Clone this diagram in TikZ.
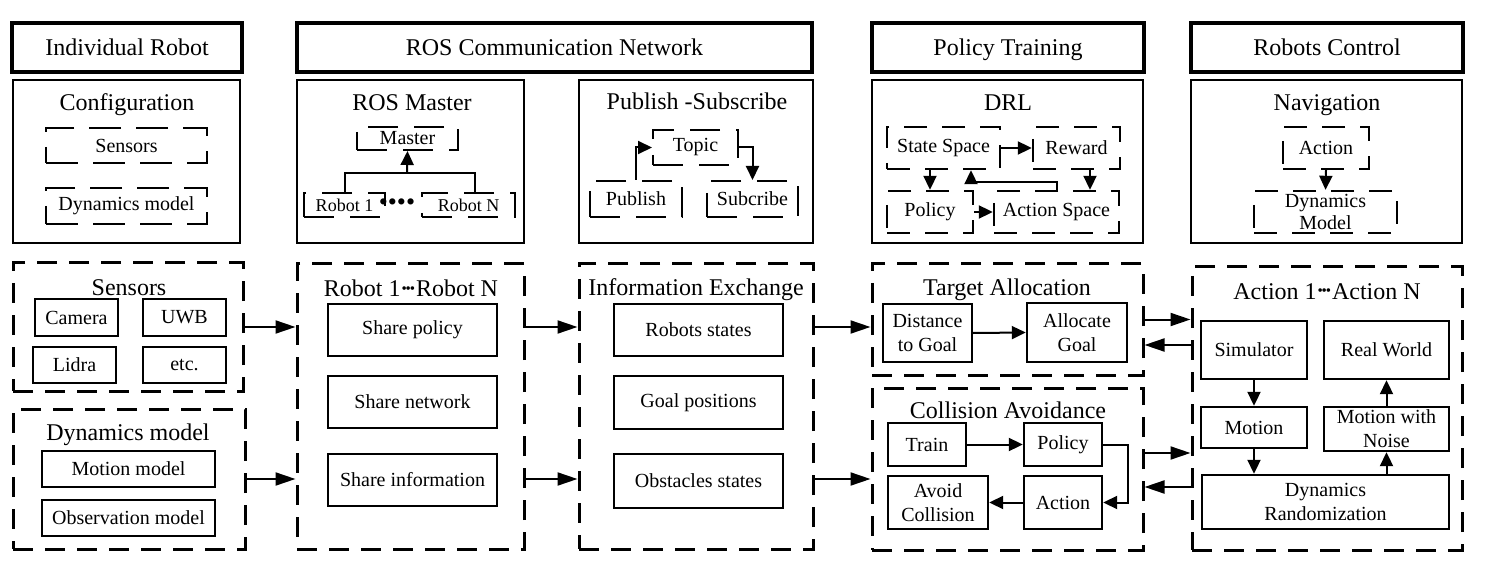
\documentclass[tikz,border=0pt]{standalone}
\usepackage{fontspec}
\setmainfont{Liberation Serif}
\usetikzlibrary{arrows.meta,calc}
\newcommand\mybox[6]{\node[#1,minimum width={(#4)-(#2)},minimum height={(#5)-(#3)}] (#6) at ({((#2)+(#4))/2},{((#3)+(#5))/2})}
\newcommand\mydots{\kern1pt\raisebox{3.5pt}{\fontsize{15}{15}\selectfont •\kern-1.2pt•\kern-1.2pt•}\kern1pt}
\tikzset{
 hdr/.style={draw, line width=4pt, font=\fontsize{24}{28}\selectfont, text height=22pt, text depth=5pt},
 ttl/.style={font=\fontsize{24}{28}\selectfont, inner sep=0pt, anchor=base},
 panel/.style={draw, line width=2pt},
 sbox/.style={draw, line width=2.4pt, font=\fontsize{20}{24}\selectfont, align=center, inner sep=1pt},
 dbig/.style={draw, line width=3pt, dash pattern=on 20pt off 12pt},
 dcfg/.style={draw, line width=2.2pt, dash pattern=on 32pt off 15pt, font=\fontsize{20}{24}\selectfont, align=center, inner sep=1pt},
 dmid/.style={draw, line width=2.4pt, dash pattern=on 23pt off 15pt, font=\fontsize{20}{22}\selectfont, align=center, inner sep=1pt},
 dros/.style={draw, line width=2pt, dash pattern=on 30pt off 16pt, font=\fontsize{20}{24}\selectfont, inner sep=1pt},
 drossm/.style={dros, font=\fontsize{18}{20}\selectfont},
 ln/.style={line width=2pt},
 arr/.style={line width=2pt, -{Triangle[length=14pt,width=13pt]}},
 bigarr/.style={line width=2pt, -{Triangle[length=20pt,width=13pt]}},
}
\begin{document}
\begin{tikzpicture}[x=1pt,y=-1pt]
\useasboundingbox (0,0) rectangle (1500,572);
% headers
\mybox{hdr}{12}{23}{242}{72}{hIR}{Individual Robot};
\mybox{hdr}{297}{23}{812}{72}{hROS}{ROS Communication Network};
\mybox{hdr}{872}{23}{1144}{72}{hPT}{Policy Training};
\mybox{hdr}{1191}{23}{1463}{72}{hRC}{Robots Control};
% row 2: configuration
\mybox{panel}{13}{80}{240}{243}{pCfg}{};
\node[ttl] (tCfg) at (127,111) {Configuration};
\mybox{dcfg}{46}{128}{207}{163}{cSens}{Sensors};
\mybox{dcfg}{46}{188}{207}{224}{cDyn}{Dynamics model};
% row 2: ROS master
\mybox{panel}{297}{80}{524}{243}{pRM}{};
\node[ttl] (tRM) at (412,111) {ROS Master};
\mybox{dros}{357}{127}{458}{150}{master}{Master};
\mybox{drossm}{304}{193}{385}{217}{rob1}{Robot 1};
\mybox{drossm}{422}{193}{515}{217}{robN}{Robot N};
\node[font=\fontsize{26}{26}\selectfont, inner sep=0pt] (dots) at (397,205) {••••};
\coordinate (mj) at (407,173);
\draw[ln] (rob1.north) |- (mj) -| ([xshift=6.5pt]robN.north);
\draw[arr] (mj) -- (master.south);
% row 2: publish subscribe
\mybox{panel}{579}{80}{813}{243}{pPS}{};
\node[ttl] (tPS) at (697,110) {Publish -Subscribe};
\mybox{dros}{653}{130}{738}{165}{topic}{Topic};
\mybox{dros}{590}{181}{682}{217}{pub}{Publish};
\mybox{dros}{707}{181}{798}{217}{sub}{Subcribe};
\draw[arr] (pub.north) |- (topic.west);
\draw[arr] (topic.east) -| (sub.north);
% row 2: DRL
\mybox{panel}{872}{80}{1143}{243}{pDRL}{};
\node[ttl] (tDRL) at (1008,111) {DRL};
\mybox{dmid}{887}{127}{1000}{169}{ss}{State Space};
\mybox{dmid}{1033}{127}{1120}{169}{rw}{Reward};
\mybox{dmid}{887}{191}{973}{233}{dpol}{Policy};
\mybox{dmid}{994}{191}{1119}{233}{as}{Action Space};
\draw[arr] (ss.east) -- (rw.west);
\draw[arr] (dpol.north |- ss.south) -- (dpol.north);
\coordinate (rwd1) at ([xshift=13.5pt]rw.south);
\draw[arr] (rwd1) -- (rwd1 |- as.north);
\draw[arr] (as.north) -- ++(0,8pt) -| ([xshift=27.5pt]ss.south);
\draw[arr] (dpol.east) -- (as.west);
% row 2: navigation
\mybox{panel}{1191}{80}{1462}{243}{pNav}{};
\node[ttl] (tNav) at (1327,111) {Navigation};
\mybox{dmid}{1283}{127}{1369}{169}{nact}{Action};
\mybox{dmid}{1254}{191}{1397}{233}{ndm}{Dynamics\\Model};
\draw[arr] (nact.south) -- (ndm.north);
% row 3: sensors
\mybox{dbig}{13}{263}{243}{391}{gSens}{};
\node[ttl] (tSens) at (129,295) {Sensors};
\mybox{sbox}{35}{299}{118}{336}{cam}{Camera};
\mybox{sbox}{143}{299}{226}{336}{uwb}{UWB};
\mybox{sbox}{33}{347}{116}{383}{lid}{Lidra};
\mybox{sbox}{143}{347}{226}{383}{etc}{etc.};
% row 3: dynamics model
\mybox{dbig}{13}{409}{245}{549}{gDyn}{};
\node[ttl] (tDyn) at (128,440) {Dynamics model};
\mybox{sbox}{42}{451}{215}{487}{mm}{Motion model};
\mybox{sbox}{42}{500}{215}{536}{om}{Observation model};
% row 3: robots
\mybox{dbig}{297}{264}{524}{549}{gRob}{};
\node[ttl] (tRob) at (411,297) {Robot 1\mydots Robot N};
\mybox{sbox}{328}{304}{497}{356}{sp}{Share policy};
\mybox{sbox}{328}{376}{497}{428}{sn}{Share network};
\mybox{sbox}{328}{454}{497}{506}{si}{Share information};
% row 3: information exchange
\mybox{dbig}{579}{264}{813}{549}{gInf}{};
\node[ttl] (tInf) at (696,295) {Information Exchange};
\mybox{sbox}{614}{304}{783}{356}{rs}{Robots states};
\mybox{sbox}{614}{376}{783}{429}{gp}{Goal positions};
\mybox{sbox}{614}{454}{783}{508}{os}{Obstacles states};
% row 3: target allocation
\mybox{dbig}{872}{264}{1143}{375}{gTA}{};
\node[ttl] (tTA) at (1007,295) {Target Allocation};
\mybox{sbox}{883}{304}{972}{362}{dist}{Distance\\to Goal};
\mybox{sbox}{1027}{303}{1127}{362}{alloc}{Allocate\\Goal};
\draw[arr] (dist.east) -- (alloc.west);
% row 3: collision avoidance
\mybox{dbig}{872}{388}{1143}{550}{gCA}{};
\node[ttl] (tCA) at (1008,418) {Collision Avoidance};
\mybox{sbox}{888}{423}{966}{466}{train}{Train};
\mybox{sbox}{1024}{423}{1102}{466}{cpol}{Policy};
\mybox{sbox}{888}{476}{988}{529}{avoid}{Avoid\\Collision};
\mybox{sbox}{1024}{476}{1102}{529}{cact}{Action};
\draw[arr] (train.east) -- (cpol.west);
\draw[arr] (cpol.east) -- ++(25pt,0) |- (cact.east);
\draw[arr] (cact.west) -- (avoid.east);
% row 3: actions
\mybox{dbig}{1192}{267}{1462}{550}{gAct}{};
\node[ttl] (tAct) at (1327,299) {Action 1\mydots Action N};
\mybox{sbox}{1201}{321}{1307}{379}{sim}{Simulator};
\mybox{sbox}{1324}{321}{1449}{379}{rwd}{Real World};
\mybox{sbox}{1201}{407}{1307}{448}{mot}{Motion};
\mybox{sbox}{1324}{407}{1449}{451}{mwn}{Motion with\\Noise};
\mybox{sbox}{1202}{475}{1449}{529}{dr}{Dynamics\\Randomization};
\draw[arr] (sim.south) -- (mot.north);
\draw[arr] (mot.south) -- (mot.south |- dr.north);
\draw[arr] (mwn.south |- dr.north) -- (mwn.south);
\draw[arr] (mwn.north) -- (rwd.south);
% row 3 connections
\draw[bigarr] (gSens.east) -- (gSens.east -| gRob.west);
\draw[bigarr] (gDyn.east) -- (gDyn.east -| gRob.west);
\draw[bigarr] (gSens.east -| gRob.east) -- (gSens.east -| gInf.west);
\draw[bigarr] (gDyn.east -| gRob.east) -- (gDyn.east -| gInf.west);
\draw[bigarr] (gSens.east -| gInf.east) -- (gSens.east -| gTA.west);
\draw[bigarr] (gDyn.east -| gInf.east) -- (gDyn.east -| gCA.west);
\coordinate (ta1) at (gTA.east);
\coordinate (ta2) at ([yshift=-25.5pt]gTA.east);
\coordinate (ca1) at ([yshift=16pt]gCA.east);
\coordinate (ca2) at ([yshift=-18pt]gCA.east);
\draw[bigarr] (ta1) -- (ta1 -| gAct.west);
\draw[bigarr] (ta2 -| gAct.west) -- (ta2);
\draw[bigarr] (ca1) -- (ca1 -| gAct.west);
\draw[bigarr] (ca2 -| gAct.west) -- (ca2);
\end{tikzpicture}
\end{document}
